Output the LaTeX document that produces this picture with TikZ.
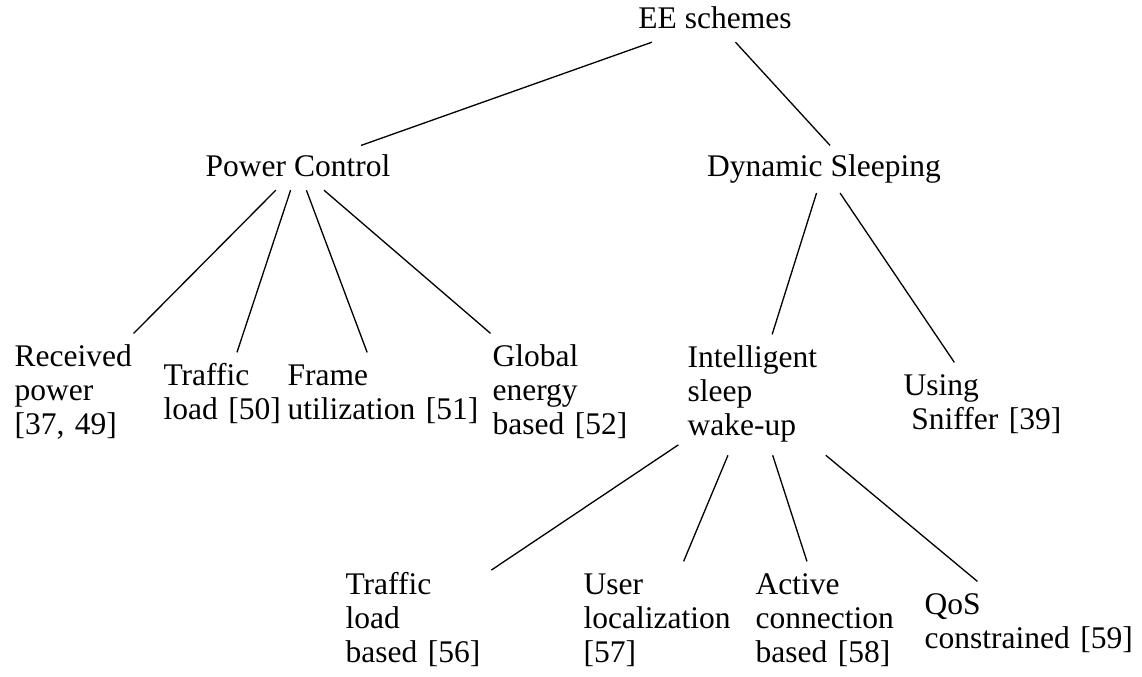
\documentclass[tikz,border=0pt]{standalone}
\usepackage{fontspec}
\setmainfont{Liberation Serif}
\begin{document}
\begin{tikzpicture}[x=0.381pt,y=-0.381pt,
  every node/.style={font=\fontsize{12}{13}\selectfont, inner sep=3.33pt},
  head/.style={anchor=base, text height=8.5pt, text depth=1.5pt},
  leaf/.style={anchor=north west, align=left, text width=#1},
  branch/.style={draw=black, line width=0.5pt}]
\useasboundingbox (0,0) rectangle (1142,676);

% root and the two main families
\node[head] (ee) at (715,29)  {EE schemes};
\node[head] (pc) at (298,177) {Power Control};
\node[head, text depth=2.6pt] (ds) at (824,177) {Dynamic Sleeping};

% power control schemes
\node[leaf=45pt] (rp) at (5.3,333.4)   {\strut Received\\power\\{}[37, 49]\strut};
\node[leaf=45pt] (tl) at (154.3,352.4) {\strut Traffic\\load [50]\strut};
\node[leaf=73pt] (fu) at (278.3,352.4) {\strut Frame\\utilization [51]\strut};
\node[leaf=52pt] (ge) at (483.3,333.4) {\strut Global\\energy\\based [52]\strut};

% dynamic sleeping schemes
\node[leaf=50pt] (is) at (678.3,334.4) {\strut Intelligent\\sleep\\wake-up\strut};
\node[leaf=61pt] (us) at (894.3,362.4) {\strut Using\\\hspace*{0.25em}Sniffer [39]\strut};

% intelligent sleep wake-up schemes
\node[leaf=52pt] (tb) at (336.3,561.4) {\strut Traffic\\load\\based [56]\strut};
\node[leaf=57pt] (ul) at (574.3,561.4) {\strut User\\localization\\{}[57]\strut};
\node[leaf=54pt] (ac) at (746.3,561.4) {\strut Active\\connection\\based [58]\strut};
\node[leaf=80pt] (qc) at (915.3,581.4) {\strut QoS\\constrained [59]\strut};

% tree branches
\draw[branch] (ee) -- (pc);
\draw[branch] (ee) -- ([xshift=2.3pt]ds.north);
\draw[branch] (pc) -- (rp);
\draw[branch] (pc) -- (tl);
\draw[branch] (pc) -- (fu);
\draw[branch] (pc) -- (ge);
\draw[branch] (ds) -- (is);
\draw[branch] (ds) -- (us);
\draw[branch] (is) -- (tb);
\draw[branch] (is) -- (ul);
\draw[branch] (is) -- (ac);
\draw[branch] (is) -- (qc);
\end{tikzpicture}
\end{document}
